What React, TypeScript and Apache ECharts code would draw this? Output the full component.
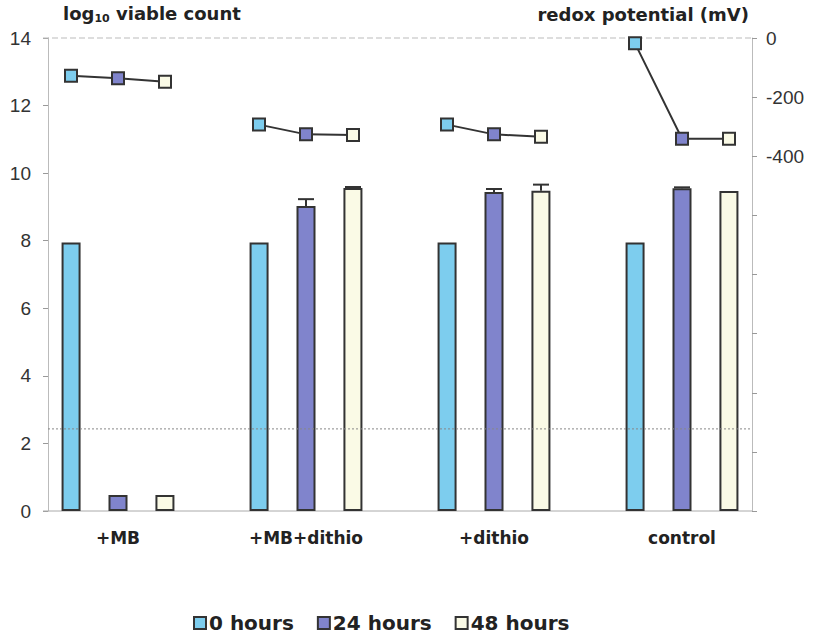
import React, { useEffect, useRef } from "react";
import * as echarts from "echarts";

const categories = ["+MB", "+MB+dithio", "+dithio", "control"];
const seriesNames = ["0 hours", "24 hours", "48 hours"];
const count0h = [7.95, 7.95, 7.95, 7.95];
const count24h = [0.47, 9.03, 9.44, 9.55];
const count48h = [0.47, 9.56, 9.48, 9.47];
const err24h = [0, 0.2, 0.09, 0.03];
const err48h = [0, 0.03, 0.18, 0];
const redox0h = [-128, -293, -293, -18];
const redox24h = [-136, -326, -326, -341];
const redox48h = [-148, -328, -334, -341];
const detectionLimit = 2.43;
const rightLabelled = [0, -200, -400];

const colors = ["#7dcdee", "#8084cc", "#fafae6"];
const FONT = "'Liberation Sans', Arial, sans-serif";
const BOLD = "'DejaVu Sans', Verdana, sans-serif";
const SP = 47;

export default function App() {
  const ref = useRef<HTMLDivElement>(null);
  useEffect(() => {
    const chart = echarts.init(ref.current!, null, { renderer: "svg" });
    const countSeries = [count0h, count24h, count48h];
    const errSeries = [null, err24h, err48h];
    const errData: number[][] = [];
    errSeries.forEach((e, s) => {
      if (!e) return;
      e.forEach((v, c) => {
        if (v > 0) errData.push([c, s, countSeries[s][c], v]);
      });
    });
    const redoxData = categories.map((_, c) => [c, redox0h[c], redox24h[c], redox48h[c]]);

    const option: any = {
      animation: false,
      grid: { left: 24, right: 39, top: 38, bottom: 125 },
      xAxis: {
        type: "category",
        data: categories,
        boundaryGap: true,
        axisLine: { show: false },
        axisTick: { show: false },
        axisLabel: { fontFamily: BOLD, fontWeight: "bold", fontSize: 17, color: "#222", margin: 18 },
      },
      yAxis: [
        {
          type: "value",
          min: 0,
          max: 14,
          interval: 2,
          offset: -24,
          axisLine: { show: true, lineStyle: { color: "#bbb", width: 1 } },
          axisTick: { show: true, length: 5, lineStyle: { color: "#999" } },
          axisLabel: { fontFamily: FONT, fontSize: 19, color: "#333", margin: 17 },
          splitLine: { show: false },
        },
        {
          type: "value",
          min: -1600,
          max: 0,
          interval: 200,
          offset: -24,
          position: "right",
          axisLine: { show: true, lineStyle: { color: "#bbb", width: 1 } },
          axisTick: { show: true, length: 5, lineStyle: { color: "#999" } },
          axisLabel: {
            fontFamily: FONT,
            fontSize: 19,
            color: "#333",
            margin: 14,
            formatter: (v: number) => (rightLabelled.indexOf(v) >= 0 ? String(v) : ""),
          },
          splitLine: { show: false },
        },
      ],
      legend: {
        top: 612,
        left: 193,
        data: seriesNames,
        icon: "rect",
        itemWidth: 12,
        itemHeight: 12,
        itemGap: 23,
        padding: 0,
        textStyle: { fontFamily: BOLD, fontWeight: "bold", fontSize: 20, lineHeight: 22, color: "#222", padding: [0, 0, 0, -2] },
      },
      series: [
        ...seriesNames.map((name, s) => ({
          name,
          type: "bar",
          data: countSeries[s],
          barWidth: 19,
          barGap: "147%",
          itemStyle: { color: colors[s], borderColor: "#333", borderWidth: 2 },
          z: 2,
        })),
        {
          type: "custom",
          name: "err",
          data: errData,
          encode: { x: 0, y: 2 },
          z: 3,
          renderItem: (params: any, api: any) => {
            const c = api.value(0), s = api.value(1), v = api.value(2), e = api.value(3);
            const b = api.coord([c, v]);
            const t = api.coord([c, v + e]);
            const x = b[0] + (s - 1) * SP;
            return {
              type: "group",
              children: [
                { type: "line", shape: { x1: x, y1: b[1], x2: x, y2: t[1] }, style: { stroke: "#333", lineWidth: 2 } },
                { type: "line", shape: { x1: x - 8, y1: t[1], x2: x + 8, y2: t[1] }, style: { stroke: "#333", lineWidth: 2 } },
              ],
            };
          },
        },
        {
          type: "custom",
          name: "redox",
          yAxisIndex: 1,
          data: redoxData,
          encode: { x: 0, y: [1, 2, 3] },
          z: 4,
          renderItem: (params: any, api: any) => {
            const c = api.value(0);
            const pts = [0, 1, 2].map((i) => {
              const p = api.coord([c, api.value(i + 1)]);
              return [p[0] + (i - 1) * SP, p[1]];
            });
            return {
              type: "group",
              children: [
                { type: "polyline", shape: { points: pts }, style: { stroke: "#333", lineWidth: 2, fill: "none" } },
                ...pts.map((p, i) => ({
                  type: "rect",
                  shape: { x: p[0] - 6, y: p[1] - 6, width: 12, height: 12 },
                  style: { fill: colors[i], stroke: "#333", lineWidth: 2 },
                })),
              ],
            };
          },
        },
      ],
    };
    chart.setOption(option);

    const yTop = chart.convertToPixel({ yAxisIndex: 0 } as any, 14) as number;
    const yZero = chart.convertToPixel({ yAxisIndex: 0 } as any, 0) as number;
    const yDet = chart.convertToPixel({ yAxisIndex: 0 } as any, detectionLimit) as number;
    chart.setOption({
      graphic: [
        { type: "line", shape: { x1: 43, y1: yTop, x2: 752, y2: yTop }, style: { stroke: "#bbb", lineWidth: 1, lineDash: [6, 3] }, z: 1 },
        { type: "line", shape: { x1: 43, y1: yZero, x2: 752, y2: yZero }, style: { stroke: "#aaa", lineWidth: 1 }, z: 1 },
        { type: "line", shape: { x1: 48, y1: yDet, x2: 752, y2: yDet }, style: { stroke: "#888", lineWidth: 1, lineDash: [2, 2] }, z: 100 },
        {
          type: "text",
          left: 63,
          top: 4,
          style: {
            text: "{a|log}{s|10}{a| viable count}",
            rich: {
              a: { fontFamily: BOLD, fontWeight: "bold", fontSize: 18, fill: "#222" },
              s: { fontFamily: BOLD, fontWeight: "bold", fontSize: 11, fill: "#222", padding: [10, 0, 0, 0] },
            },
          },
        },
        {
          type: "text",
          right: 66,
          top: 5,
          style: { text: "redox potential (mV)", fontFamily: BOLD, fontWeight: "bold", fontSize: 18, fill: "#222" },
        },
      ],
    });
    return () => chart.dispose();
  }, []);
  return <div ref={ref} style={{ position: "absolute", left: 0, top: 0, width: 815, height: 636 }} />;
}
